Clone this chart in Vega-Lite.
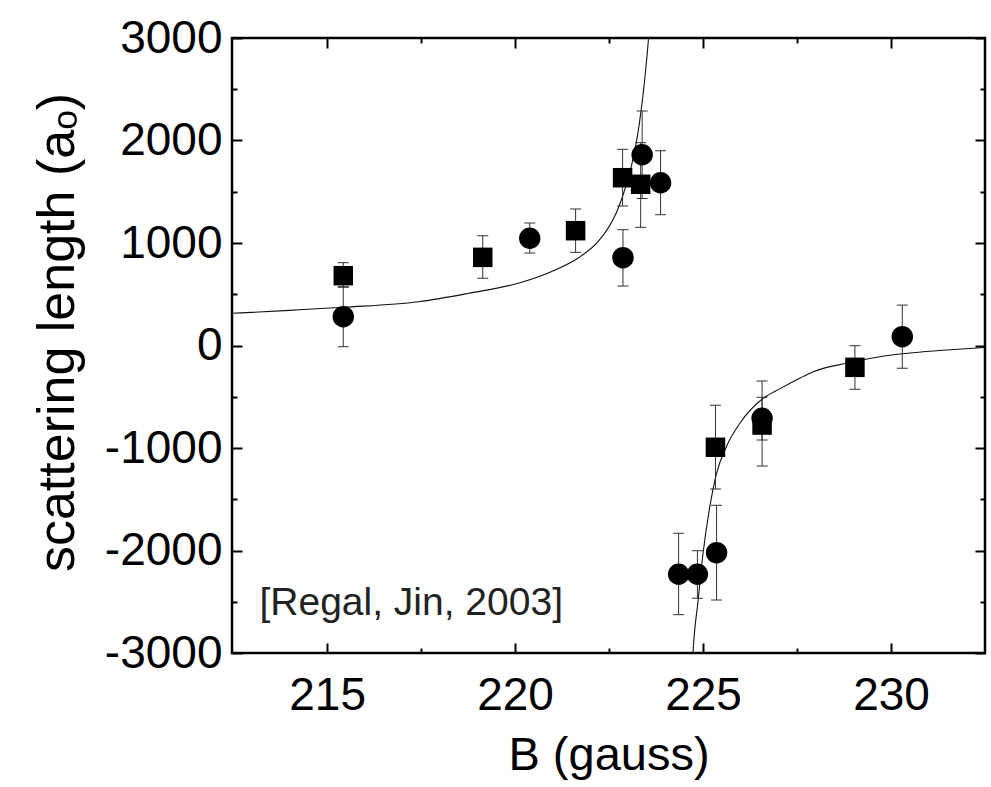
{
  "$schema": "https://vega.github.io/schema/vega-lite/v6.json",
  "width": 753,
  "height": 615,
  "autosize": "none",
  "padding": {"left": 232, "top": 38, "right": 6, "bottom": 134},
  "background": "white",
  "config": {
    "font": "Liberation Sans",
    "view": {"stroke": "black", "strokeWidth": 2.5},
    "axis": {
      "domain": false,
      "grid": false,
      "zindex": 1,
      "tickColor": "black",
      "tickWidth": 2,
      "labelFont": "Liberation Sans",
      "labelFontSize": 46,
      "labelColor": "black",
      "titleFont": "Liberation Sans",
      "titleFontSize": 47,
      "titleFontWeight": "normal",
      "titleColor": "black"
    }
  },
  "datasets": {
    "pts": [
      {"B": 215.43, "a": 681, "lo": 568, "hi": 808, "kind": "square"},
      {"B": 219.14, "a": 860, "lo": 656, "hi": 1071, "kind": "square"},
      {"B": 221.61, "a": 1120, "lo": 909, "hi": 1332, "kind": "square"},
      {"B": 222.86, "a": 1637, "lo": 1361, "hi": 1914, "kind": "square"},
      {"B": 223.34, "a": 1573, "lo": 1153, "hi": 1979, "kind": "square"},
      {"B": 225.33, "a": -993, "lo": -1400, "hi": -583, "kind": "square"},
      {"B": 226.57, "a": -776, "lo": -922, "hi": -505, "kind": "square"},
      {"B": 229.04, "a": -213, "lo": -427, "hi": -2, "kind": "square"},
      {"B": 215.43, "a": 281, "lo": -12, "hi": 574, "kind": "circle"},
      {"B": 220.39, "a": 1046, "lo": 902, "hi": 1195, "kind": "circle"},
      {"B": 222.87, "a": 857, "lo": 580, "hi": 1130, "kind": "circle"},
      {"B": 223.38, "a": 1861, "lo": 1434, "hi": 2288, "kind": "circle"},
      {"B": 223.87, "a": 1588, "lo": 1276, "hi": 1900, "kind": "circle"},
      {"B": 224.35, "a": -2232, "lo": -2626, "hi": -1832, "kind": "circle"},
      {"B": 224.85, "a": -2232, "lo": -2466, "hi": -2002, "kind": "circle"},
      {"B": 225.36, "a": -2021, "lo": -2483, "hi": -1559, "kind": "circle"},
      {"B": 226.57, "a": -710, "lo": -1176, "hi": -346, "kind": "circle"},
      {"B": 230.3, "a": 86, "lo": -222, "hi": 394, "kind": "circle"}
    ],
    "fit": [
      {"B": 212.47, "a": 314, "branch": "low"},
      {"B": 214.0, "a": 343, "branch": "low"},
      {"B": 215.43, "a": 373, "branch": "low"},
      {"B": 217.43, "a": 427, "branch": "low"},
      {"B": 218.76, "a": 509, "branch": "low"},
      {"B": 220.08, "a": 607, "branch": "low"},
      {"B": 220.96, "a": 720, "branch": "low"},
      {"B": 221.67, "a": 851, "branch": "low"},
      {"B": 222.2, "a": 1010, "branch": "low"},
      {"B": 222.5, "a": 1160, "branch": "low"},
      {"B": 222.7, "a": 1300, "branch": "low"},
      {"B": 222.9, "a": 1500, "branch": "low"},
      {"B": 223.1, "a": 1760, "branch": "low"},
      {"B": 223.3, "a": 2150, "branch": "low"},
      {"B": 223.45, "a": 2600, "branch": "low"},
      {"B": 223.55, "a": 3000, "branch": "low"},
      {"B": 223.6, "a": 3250, "branch": "low"},
      {"B": 224.7, "a": -3250, "branch": "high"},
      {"B": 224.73, "a": -3020, "branch": "high"},
      {"B": 224.87, "a": -2483, "branch": "high"},
      {"B": 225.0, "a": -2027, "branch": "high"},
      {"B": 225.18, "a": -1573, "branch": "high"},
      {"B": 225.36, "a": -1247, "branch": "high"},
      {"B": 225.62, "a": -987, "branch": "high"},
      {"B": 225.98, "a": -759, "branch": "high"},
      {"B": 226.6, "a": -515, "branch": "high"},
      {"B": 227.04, "a": -423, "branch": "high"},
      {"B": 227.57, "a": -320, "branch": "high"},
      {"B": 227.93, "a": -256, "branch": "high"},
      {"B": 228.81, "a": -174, "branch": "high"},
      {"B": 229.7, "a": -109, "branch": "high"},
      {"B": 230.59, "a": -70, "branch": "high"},
      {"B": 231.47, "a": -44, "branch": "high"},
      {"B": 232.5, "a": -20, "branch": "high"}
    ]
  },
  "layer": [
    {
      "data": {"name": "fit"},
      "mark": {"type": "line", "color": "#111111", "strokeWidth": 1.1, "clip": true, "interpolate": "monotone"},
      "encoding": {
        "x": {
          "field": "B", "type": "quantitative",
          "scale": {"domain": [212.47, 232.5], "nice": false, "zero": false},
          "title": "B (gauss)",
          "axis": {
            "orient": "bottom",
            "values": [215, 217.5, 220, 222.5, 225, 227.5, 230],
            "labelExpr": "datum.value % 5 === 0 ? '' + datum.value : ''",
            "tickSize": {"condition": {"test": "datum.value % 5 === 0", "value": -10}, "value": -5},
            "labelPadding": 30,
            "titlePadding": 14
          }
        },
        "y": {
          "field": "a", "type": "quantitative",
          "scale": {"domain": [-3000, 3000], "nice": false, "zero": false},
          "title": "scattering length (aₒ)",
          "axis": {
            "orient": "left",
            "values": [-3000, -2500, -2000, -1500, -1000, -500, 0, 500, 1000, 1500, 2000, 2500, 3000],
            "labelExpr": "datum.value % 1000 === 0 ? '' + datum.value : ''",
            "tickSize": {"condition": {"test": "datum.value % 1000 === 0", "value": -10}, "value": -5},
            "labelPadding": 20,
            "titlePadding": 20,
            "titleFontSize": 52,
            "titleY": 294
          }
        },
        "detail": {"field": "branch", "type": "nominal"}
      }
    },
    {
      "data": {"name": "pts"},
      "mark": {"type": "rule", "color": "#333333", "strokeWidth": 1},
      "encoding": {
        "x": {
          "field": "B", "type": "quantitative",
          "axis": {
            "orient": "top",
            "values": [215, 217.5, 220, 222.5, 225, 227.5, 230],
            "labels": false,
            "title": null,
            "tickSize": {"condition": {"test": "datum.value % 5 === 0", "value": -10}, "value": -5}
          }
        },
        "y": {
          "field": "lo", "type": "quantitative",
          "axis": {
            "orient": "right",
            "values": [-3000, -2500, -2000, -1500, -1000, -500, 0, 500, 1000, 1500, 2000, 2500, 3000],
            "labels": false,
            "title": null,
            "tickSize": {"condition": {"test": "datum.value % 1000 === 0", "value": -10}, "value": -5}
          }
        },
        "y2": {"field": "hi"}
      }
    },
    {
      "data": {"name": "pts"},
      "mark": {"type": "tick", "orient": "horizontal", "size": 11, "thickness": 1, "color": "#333333", "opacity": 1},
      "encoding": {
        "x": {"field": "B", "type": "quantitative", "axis": null},
        "y": {"field": "lo", "type": "quantitative", "axis": null}
      }
    },
    {
      "data": {"name": "pts"},
      "mark": {"type": "tick", "orient": "horizontal", "size": 11, "thickness": 1, "color": "#333333", "opacity": 1},
      "encoding": {
        "x": {"field": "B", "type": "quantitative", "axis": null},
        "y": {"field": "hi", "type": "quantitative", "axis": null}
      }
    },
    {
      "data": {"name": "pts"},
      "mark": {"type": "point", "filled": true, "color": "black", "opacity": 1},
      "encoding": {
        "x": {"field": "B", "type": "quantitative", "axis": null},
        "y": {"field": "a", "type": "quantitative", "axis": null},
        "shape": {"field": "kind", "type": "nominal", "scale": {"domain": ["square", "circle"], "range": ["square", "circle"]}, "legend": null},
        "size": {"field": "kind", "type": "nominal", "scale": {"domain": ["square", "circle"], "range": [380, 460]}, "legend": null}
      }
    },
    {
      "data": {"values": [{"label": "[Regal, Jin, 2003]"}]},
      "mark": {"type": "text", "align": "left", "baseline": "alphabetic", "font": "Liberation Sans", "fontSize": 39, "color": "#222222"},
      "encoding": {
        "x": {"datum": 213.2, "type": "quantitative", "axis": null},
        "y": {"datum": -2630, "type": "quantitative", "axis": null},
        "text": {"field": "label", "type": "nominal"}
      }
    }
  ],
  "resolve": {"axis": {"x": "independent", "y": "independent"}}
}
